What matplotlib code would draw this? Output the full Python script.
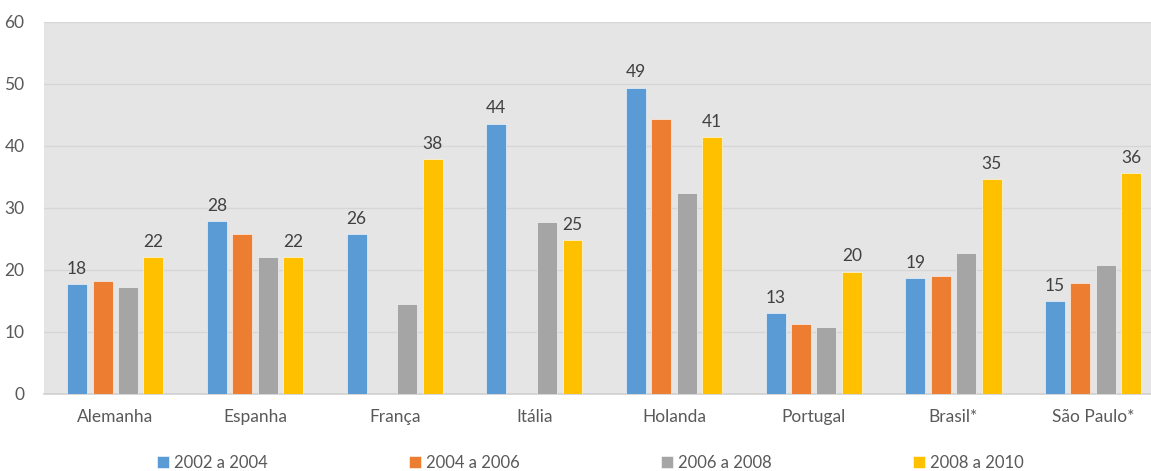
import numpy as np
import matplotlib.pyplot as plt

plt.rcParams['font.family'] = ['Lato', 'DejaVu Sans']

paises = ['Alemanha', 'Espanha', 'França', 'Itália', 'Holanda', 'Portugal', 'Brasil*', 'São Paulo*']
periodos = ['2002 a 2004', '2004 a 2006', '2006 a 2008', '2008 a 2010']
cores = ['#5b9bd5', '#ed7d31', '#a5a5a5', '#ffc000']

p2002 = [17.7, 27.9, 25.8, 43.6, 49.4, 13.0, 18.7, 15.0]
p2004 = [18.2, 25.8, np.nan, np.nan, 44.4, 11.3, 19.1, 17.9]
p2006 = [17.3, 22.1, 14.5, 27.7, 32.4, 10.8, 22.8, 20.8]
p2008 = [22.1, 22.1, 37.9, 24.8, 41.4, 19.7, 34.6, 35.6]
series = [p2002, p2004, p2006, p2008]
# only the first and last period carry value labels
rotular = [True, False, False, True]

fig = plt.figure(figsize=(11.51, 4.71), dpi=100)
ax = fig.add_axes([44 / 1151, 1 - 394 / 471, 1 - 44 / 1151, 372 / 471])
ax.set_facecolor('#e5e5e5')

x = np.arange(len(paises))
passo = 0.182
largura = 0.143
for i, (vals, cor, nome) in enumerate(zip(series, cores, periodos)):
    pos = x + (i - 1.5) * passo
    ax.bar(pos, vals, width=largura, color=cor, label=nome,
           edgecolor='white', linewidth=0.4, zorder=3)
    if rotular[i]:
        for xp, v in zip(pos, vals):
            if not np.isnan(v):
                ax.text(xp, v + 1.2, f'{v:.0f}', ha='center', va='bottom',
                        fontsize=12.5, color='#404040')

ax.set_xlim(-0.51, 7.414)
ax.set_ylim(0, 60)
ax.set_yticks(range(0, 61, 10))
ax.grid(axis='y', color='#d6d6d6', linewidth=1, zorder=0)
ax.set_axisbelow(True)
for s in ['top', 'right', 'left']:
    ax.spines[s].set_visible(False)
ax.spines['bottom'].set_color('#cfcfcf')
ax.spines['bottom'].set_linewidth(1.2)
ax.tick_params(axis='both', length=0, colors='#595959', labelsize=12.5)
ax.tick_params(axis='y', pad=14)
ax.tick_params(axis='x', pad=11)
ax.set_xticks(x)
ax.set_xticklabels(paises)

handles, labels = ax.get_legend_handles_labels()
fig.legend(handles, labels, loc='center', bbox_to_anchor=(0.513, 1 - 463 / 471),
           ncol=4, frameon=False, fontsize=12, labelcolor='#595959',
           handlelength=0.7, handleheight=0.7, handletextpad=0.3, columnspacing=8.5)

fig.savefig('out.png', dpi=100)
